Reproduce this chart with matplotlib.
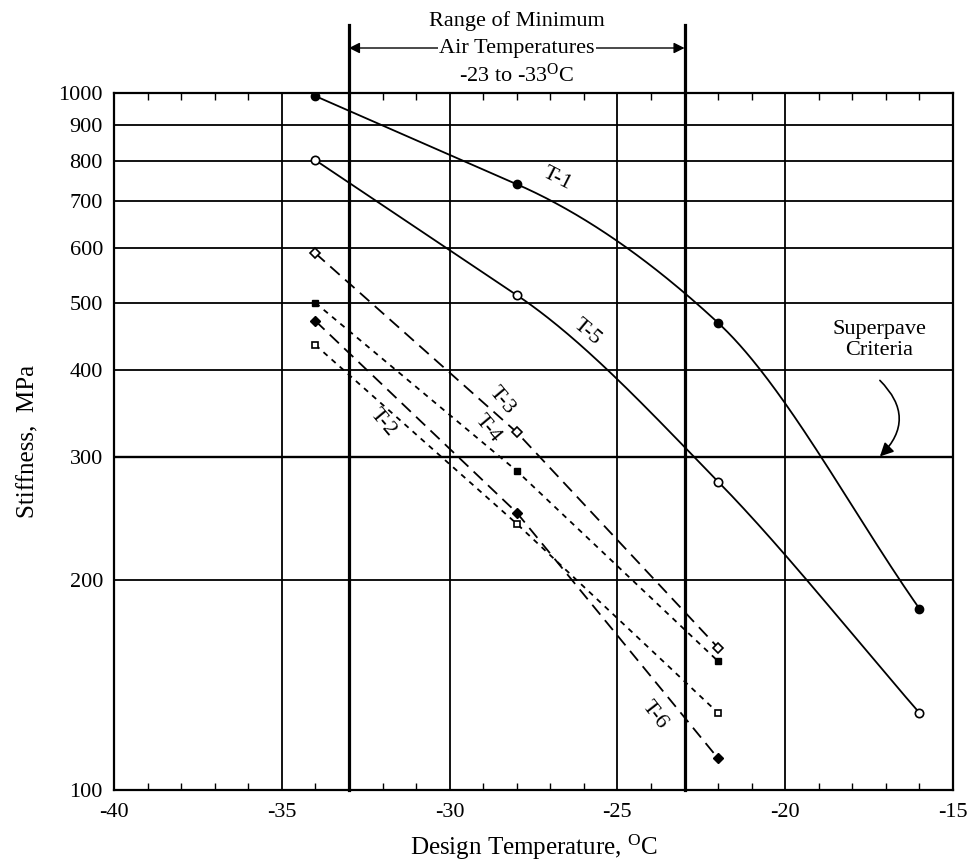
import numpy as np
import matplotlib
matplotlib.use("Agg")
import matplotlib.pyplot as plt
from matplotlib.ticker import FixedLocator, NullLocator

plt.rcParams['font.family'] = ['Liberation Serif', 'DejaVu Serif']
plt.rcParams['mathtext.fontset'] = 'custom'
plt.rcParams['mathtext.rm'] = 'Liberation Serif'
plt.rcParams['mathtext.it'] = 'Liberation Serif:italic'

# ---- data ----
temps4 = [-34, -28, -22, -16]
temps3 = [-34, -28, -22]
t1 = [990, 740, 468, 182]
t5 = [801, 513, 277, 129]
t3 = [589, 326, 160]
t4 = [500, 287, 153]
t6 = [471, 250, 111]
t2 = [435, 241, 129]
yticks = [100, 200, 300, 400, 500, 600, 700, 800, 900, 1000]
xticks = [-40, -35, -30, -25, -20, -15]

fig = plt.figure(figsize=(9.72, 8.67), dpi=100)
ax = fig.add_axes([0.1173, 0.0888, 0.8632, 0.8039])
ax.set_yscale('log')
ax.set_xlim(-40, -15)
ax.set_ylim(100, 1000)

# grid
for yv in yticks[1:-1]:
    ax.axhline(yv, color='black', lw=1.7 if yv == 300 else 1.3, zorder=1)
for xv in [-35, -30, -25, -20]:
    ax.axvline(xv, color='black', lw=1.3, zorder=1)
for xv in [-33, -23]:
    ax.plot([xv, xv], [0, 1.0975], color='black', lw=2.3,
            transform=ax.get_xaxis_transform(), clip_on=False, zorder=2)


def smooth_curve(xs, ys, n=300):
    """Hermite curve through the points (log-y space), drawn like a French curve:
    straight first segment, smooth bend afterwards."""
    x = np.asarray(xs, float)
    y = np.log10(np.asarray(ys, float))
    h = np.diff(x)
    d = np.diff(y) / h
    m = np.zeros_like(y)
    m[0] = d[0]
    m[1] = d[0]
    for k in range(2, len(x) - 1):
        m[k] = 2.0 / (1.0 / d[k - 1] + 1.0 / d[k])
    m[-1] = d[-1]
    xx = np.linspace(x[0], x[-1], n)
    idx = np.clip(np.searchsorted(x, xx) - 1, 0, len(x) - 2)
    t = (xx - x[idx]) / h[idx]
    h00 = 2 * t**3 - 3 * t**2 + 1
    h10 = t**3 - 2 * t**2 + t
    h01 = -2 * t**3 + 3 * t**2
    h11 = t**3 - t**2
    yy = h00 * y[idx] + h10 * h[idx] * m[idx] + h01 * y[idx + 1] + h11 * h[idx] * m[idx + 1]
    return xx, 10 ** yy


xx, yy = smooth_curve(temps4, t1)
ax.plot(xx, yy, color='black', lw=1.3, zorder=3)
ax.plot(temps4, t1, 'o', color='black', ms=6, zorder=4)
xx, yy = smooth_curve(temps4, t5)
ax.plot(xx, yy, color='black', lw=1.3, zorder=3)
ax.plot(temps4, t5, 'o', mfc='white', mec='black', mew=1.2, ms=6, zorder=4)

# dashed lines
ax.plot(temps3, t3, color='black', lw=1.3, dashes=(7, 4), zorder=3)
ax.plot(temps3, t3, 'D', mfc='white', mec='black', mew=1.2, ms=5, zorder=4)
ax.plot(temps3, t4, color='black', lw=1.3, dashes=(3, 3), zorder=3)
ax.plot(temps3, t4, 's', color='black', ms=4.5, zorder=4)
ax.plot(temps3, t6, color='black', lw=1.3, dashes=(7, 4), zorder=3)
ax.plot(temps3, t6, 'D', color='black', ms=5.5, zorder=4)
ax.plot(temps3, t2, color='black', lw=1.3, dashes=(3, 3), zorder=3)
ax.plot(temps3, t2, 's', mfc='white', mec='black', mew=1.2, ms=5, zorder=4)

# series labels
lab_kw = dict(fontsize=16, ha='center', va='center', zorder=5)
ax.text(-26.8, 752, 'T-1', rotation=-27, **lab_kw)
ax.text(-25.9, 454, 'T-5', rotation=-40, **lab_kw)
ax.text(-28.45, 362, 'T-3', rotation=-50, **lab_kw)
ax.text(-28.86, 330, 'T-4', rotation=-50, **lab_kw)
ax.text(-32.0, 337, 'T-2', rotation=-50, **lab_kw)
ax.text(-23.9, 128, 'T-6', rotation=-52, **lab_kw)

# Superpave criteria
ax.text(-17.2, 442, 'Superpave\nCriteria', fontsize=16, ha='center', va='center',
        linespacing=1.15)
ax.annotate('', xy=(-17.18, 301), xytext=(-17.18, 387),
            arrowprops=dict(arrowstyle='-|>', color='black', lw=1.2,
                            mutation_scale=20, shrinkA=0, shrinkB=0,
                            connectionstyle='arc3,rad=-0.5'))

# range annotation
trans = ax.get_xaxis_transform()
ax.annotate('', xy=(-33, 1.0646), xytext=(-23, 1.0646), xycoords=trans,
            textcoords=trans,
            arrowprops=dict(arrowstyle='<|-|>', color='black', lw=1.0,
                            mutation_scale=16, shrinkA=0, shrinkB=0))
ax.text(-28, 1.103, 'Range of Minimum', transform=trans, ha='center', va='center',
        fontsize=16)
ax.text(-28, 1.0646, 'Air Temperatures', transform=trans, ha='center', va='center',
        fontsize=16, bbox=dict(facecolor='white', edgecolor='none', pad=1))
ax.text(-28, 1.025, r'-23 to -33$^{\mathrm{O}}$C', transform=trans, ha='center',
        va='center', fontsize=16)

# ticks
ax.yaxis.set_major_locator(FixedLocator(yticks))
ax.yaxis.set_minor_locator(NullLocator())
ax.set_yticklabels([str(v) for v in yticks])
ax.set_xticks(xticks)
ax.set_xticklabels([str(v) for v in xticks])
ax.xaxis.set_minor_locator(FixedLocator(np.arange(-40, -14, 1)))
ax.tick_params(axis='x', which='major', direction='in', length=0, labelsize=16,
               pad=9, top=True)
ax.tick_params(axis='x', which='minor', direction='in', length=5, width=1.0, top=True)
ax.tick_params(axis='y', which='major', direction='in', length=0, labelsize=16, pad=8)
for s in ax.spines.values():
    s.set_linewidth(1.6)

ax.set_xlabel(r'Design Temperature, $^{\mathrm{O}}$C', fontsize=18, labelpad=8)
ax.set_ylabel('Stiffness,  MPa', fontsize=18, labelpad=14)

fig.savefig('out.png', dpi=100)
